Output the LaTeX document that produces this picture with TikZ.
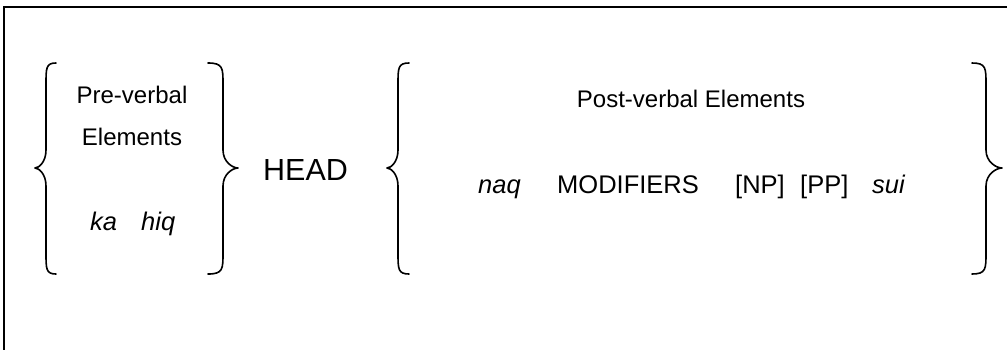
\documentclass[tikz,border=0pt]{standalone}
\usepackage{fontspec}
\setmainfont{Liberation Sans}
\begin{document}
\begin{tikzpicture}[x=1pt,y=-1pt,
  frame/.style={line width=1.8pt,black},
  brace/.style={line width=1.6pt,black,line cap=round,line join=round},
  word/.style={inner sep=0pt,anchor=base west},
  label/.style={inner sep=0pt,anchor=base,font=\fontsize{24}{28}\selectfont},
  entry/.style={word,font=\fontsize{25.5}{30}\selectfont},
  itentry/.style={entry,font=\fontsize{25.5}{30}\selectfont\itshape}]
\useasboundingbox (0,0) rectangle (1007,349);

% open frame: left and top edges
\coordinate (fbl) at (4,352);
\coordinate (ftl) at (4,7);
\coordinate (ftr) at (1010,7);
\draw[frame] (fbl) -- (ftl) -- (ftr);

% curly brace: #1 end x, #2 spine x, #3 tip x
\newcommand\curlybrace[3]{%
  \draw[brace] (#1,63) .. controls (#2,63) and (#2,68) .. (#2,84) -- (#2,150)
    .. controls (#2,162) and ({#3+0.35*(#2-#3)},168) .. (#3,168)
    .. controls ({#3+0.35*(#2-#3)},168) and (#2,174) .. (#2,186)
    -- (#2,253) .. controls (#2,269) and (#2,274) .. (#1,274);}

% braces around the pre-verbal group
\curlybrace{56}{46}{35}
\curlybrace{208}{223}{238}
% braces around the post-verbal group
\curlybrace{409}{398}{387}
\curlybrace{972}{986}{1002}

% pre-verbal group
\node[label] (pre1) at (132,103) {Pre-verbal};
\node[label] (pre2) at (132,145) {Elements};
\node[itentry] (ka) at (90,230) {ka};
\node[itentry] (hiq) at (141,230) {hiq};

% head
\node[word,font=\fontsize{30.5}{36}\selectfont] (head) at (263,180) {HEAD};

% post-verbal group
\node[label] (post) at (691,107) {Post-verbal Elements};
\node[itentry] (naq) at (478,193) {naq};
\node[entry] (mod) at (557,193) {MODIFIERS};
\node[entry] (np) at (735,193) {[NP]};
\node[entry] (pp) at (800,193) {[PP]};
\node[itentry] (sui) at (872,193) {sui};
\end{tikzpicture}
\end{document}
